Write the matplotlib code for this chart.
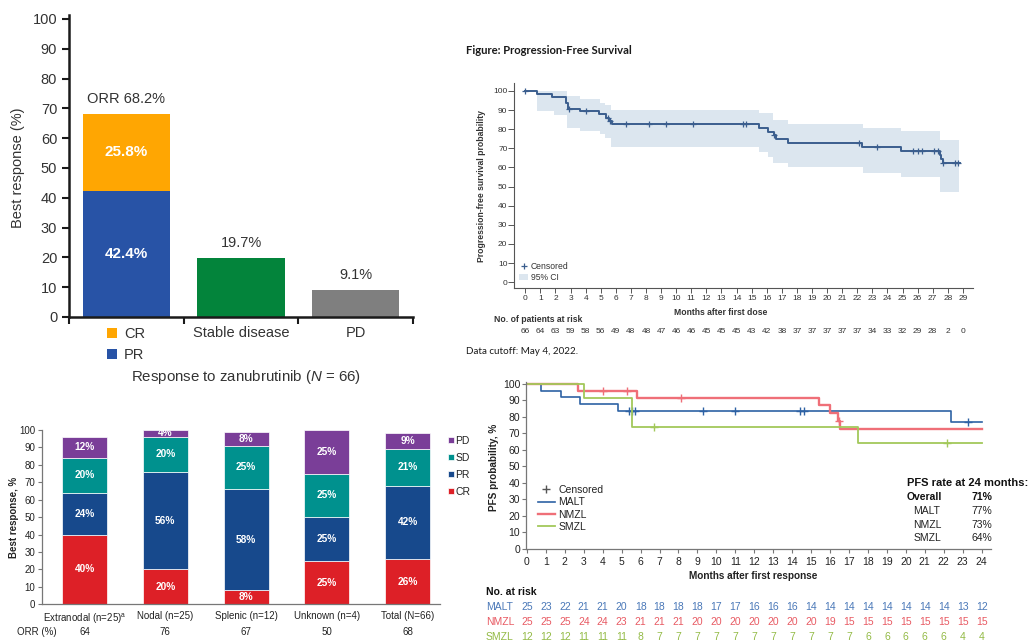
import numpy as np
import matplotlib
matplotlib.use("Agg")
import matplotlib.pyplot as plt
from matplotlib.lines import Line2D
from matplotlib.patches import Patch

plt.rcParams['font.family'] = ['Liberation Sans', 'DejaVu Sans']
plt.rcParams['mathtext.fontset'] = 'custom'
plt.rcParams['mathtext.rm'] = 'Liberation Sans'
plt.rcParams['mathtext.it'] = 'Liberation Sans:italic'
plt.rcParams['mathtext.bf'] = 'Liberation Sans:bold'

# ---- panel A: best response ----
orr_pct = 68.2
cr_pct = 25.8
pr_pct = 42.4
sd_pct = 19.7
pd_pct = 9.1
a_labels = ['Stable disease', 'PD']

# ---- panel B: PFS overall ----
pfs_t = [0, 0.79, 1.80, 2.72, 2.85, 3.6, 4.9, 5.35, 5.55, 5.75, 15.5, 16.1,
         16.45, 16.6, 17.4, 22.3, 24.9, 27.45, 27.55, 27.7, 28.8]
pfs_s = [100, 98.5, 96.9, 93.8, 90.8, 89.3, 87.7, 86.1, 84.4, 82.6, 80.5, 78.7,
         76.8, 74.9, 73.0, 70.9, 68.8, 66.5, 64.3, 62.2, 62.2]
pfs_cens = [0, 2.9, 4.0, 5.45, 5.6, 6.7, 8.2, 9.3, 11.1, 14.4, 14.6, 16.5,
            22.1, 23.3, 25.7, 26.0, 26.3, 27.1, 27.35, 27.7, 28.5, 28.7]
ci_t = [0.8, 1.9, 2.75, 3.6, 4.95, 5.3, 5.65, 15.5, 16.1, 16.4, 17.4, 22.4, 24.9, 27.5, 28.75]
ci_lo = [89.3, 87.5, 80.8, 79.0, 77.5, 75.5, 70.9, 68.3, 65.7, 62.2, 60.1, 57.0, 55.2, 47.0, 47.0]
ci_hi = [100, 100, 97.5, 95.6, 93.8, 92.5, 90.0, 88.3, 88.3, 84.8, 82.6, 80.5, 79.1, 74.4, 74.4]
pfs_risk = [66, 64, 63, 59, 58, 56, 49, 48, 48, 47, 46, 46, 45, 45, 45, 43, 42, 38,
            37, 37, 37, 37, 37, 34, 33, 32, 29, 28, 2, 0]

# ---- panel C: response by subtype ----
subtypes = ['Extranodal (n=25)$^{\\mathregular{a}}$', 'Nodal (n=25)', 'Splenic (n=12)',
            'Unknown (n=4)', 'Total (N=66)']
sub_cr = [40, 20, 8, 25, 26]
sub_pr = [24, 56, 58, 25, 42]
sub_sd = [20, 20, 25, 25, 21]
sub_pd = [12, 4, 8, 25, 9]
sub_orr = [64, 76, 67, 50, 68]

# ---- panel D: PFS by subtype ----
malt_t = [0, 0.75, 1.8, 2.8, 4.8, 22.4, 24]
malt_s = [100, 96, 92, 88, 83.5, 77.2, 77.2]
malt_cens = [5.4, 5.55, 5.7, 9.3, 11.0, 14.4, 14.6, 23.3]
nmzl_t = [0, 2.7, 5.8, 15.4, 16.0, 16.4, 16.55, 24]
nmzl_s = [100, 96, 91.8, 87.2, 82.4, 77.6, 72.7, 72.7]
nmzl_cens = [4.0, 5.3, 8.15, 16.45]
smzl_t = [0, 3.0, 5.55, 17.45, 24]
smzl_s = [100, 91.7, 74.1, 64.0, 64.0]
smzl_cens = [6.7, 22.2]
malt_risk = [25, 23, 22, 21, 21, 20, 18, 18, 18, 18, 17, 17, 16, 16, 16, 14, 14, 14, 14, 14, 14, 14, 14, 13, 12]
nmzl_risk = [25, 25, 25, 24, 24, 23, 21, 21, 21, 20, 20, 20, 20, 20, 20, 20, 19, 15, 15, 15, 15, 15, 15, 15, 15]
smzl_risk = [12, 12, 12, 11, 11, 11, 8, 7, 7, 7, 7, 7, 7, 7, 7, 7, 7, 7, 6, 6, 6, 6, 6, 4, 4]
rate_groups = ['MALT', 'NMZL', 'SMZL']
rate_values = ['77%', '73%', '64%']
rate_overall = '71%'

W, H = 1029, 640
fig = plt.figure(figsize=(W / 100, H / 100), dpi=100)


def add_px_axes(left, top, right, bottom):
    return fig.add_axes([left / W, 1 - bottom / H, (right - left) / W, (bottom - top) / H])


def ftext(x, y, s, **kw):
    fig.text(x / W, 1 - y / H, s, **kw)


def surv_at(times, t, s):
    idx = np.searchsorted(t, times, side='right') - 1
    return np.asarray(s)[idx]


# ================= panel A =================
axA = add_px_axes(69, 14.5, 413, 317)
txtA = '#333333'
bw = 0.76
axA.bar(0, pr_pct, width=bw, color='#2853A6', label='PR')
axA.bar(0, cr_pct, bottom=pr_pct, width=bw, color='#FFA602', label='CR')
axA.bar(1, sd_pct, width=bw, color='#03843B')
axA.bar(2, pd_pct, width=bw, color='#7F7F7F')
axA.text(0, pr_pct / 2, f'{pr_pct}%', ha='center', va='center', color='white',
         fontsize=11, fontweight='bold')
axA.text(0, pr_pct + cr_pct / 2, f'{cr_pct}%', ha='center', va='center', color='white',
         fontsize=11, fontweight='bold')
axA.text(0, orr_pct + 5, f'ORR {orr_pct}%', ha='center', va='center', color=txtA, fontsize=10.5)
axA.text(1, sd_pct + 5, f'{sd_pct}%', ha='center', va='center', color=txtA, fontsize=10.5)
axA.text(2, pd_pct + 5, f'{pd_pct}%', ha='center', va='center', color=txtA, fontsize=10.5)
axA.set_xlim(-0.5, 2.5)
axA.set_ylim(0, 101.5)
axA.set_yticks(range(0, 101, 10))
axA.set_xticks([-0.5, 0.5, 1.5, 2.5])
axA.set_xticklabels([])
for sp in ['top', 'right']:
    axA.spines[sp].set_visible(False)
for sp in ['left', 'bottom']:
    axA.spines[sp].set_linewidth(1.8)
    axA.spines[sp].set_color('#1a1a1a')
axA.tick_params(length=5, width=1.5, color='#1a1a1a', labelsize=10.5, labelcolor=txtA, pad=3.5)
axA.set_ylabel('Best response (%)', fontsize=10.5, color=txtA)
axA.yaxis.set_label_coords(-0.127, 0.493)
for i, lab in enumerate(a_labels):
    axA.text(i + 1, -0.053, lab, transform=axA.get_xaxis_transform(), ha='center',
             va='center', fontsize=10.5, color=txtA)
hA, lA = axA.get_legend_handles_labels()
fig.legend(hA[::-1], lA[::-1], loc='upper left', bbox_to_anchor=(107 / W, 1 - 327 / H),
           frameon=False, fontsize=10.5, handlelength=0.7, handleheight=0.7,
           handletextpad=0.45, labelspacing=0.5, borderpad=0, borderaxespad=0,
           labelcolor=txtA)
ftext(246, 377, 'Response to zanubrutinib ($\\mathit{N}$ = 66)', ha='center', va='center',
      fontsize=10.8, color=txtA)

# ================= panel B =================
axB = add_px_axes(514.4, 83.3, 972.7, 288)
lineB = '#3B5E8E'
axB.fill_between(ci_t, ci_lo, ci_hi, step='post', color='#DCE6EF', linewidth=0)
axB.step(pfs_t, pfs_s, where='post', color=lineB, lw=1.4)
axB.plot(pfs_cens, surv_at(pfs_cens, pfs_t, pfs_s), ls='none', marker='+', ms=5,
         mew=0.9, color=lineB)
axB.set_xlim(-0.72, 29.65)
axB.set_ylim(-3, 104)
axB.set_xticks(range(0, 30))
axB.set_yticks(range(0, 101, 10))
for sp in ['top', 'right']:
    axB.spines[sp].set_visible(False)
for sp in ['left', 'bottom']:
    axB.spines[sp].set_linewidth(0.8)
    axB.spines[sp].set_color('#555555')
axB.tick_params(axis='y', length=4, width=0.7, color='#555555', labelsize=6, labelcolor='#333', pad=1)
axB.tick_params(axis='x', length=3.5, width=0.7, color='#555555', labelsize=6, labelcolor='#333', pad=1.5)
axB.set_ylabel('Progression-free survival probability', fontsize=6.2, fontweight='bold', color='#333')
axB.yaxis.set_label_coords(-0.062, 0.498)
axB.set_xlabel('Months after first dose', fontsize=6.2, fontweight='bold', color='#333')
axB.xaxis.set_label_coords(0.451, -0.098)
hB = [Line2D([], [], ls='none', marker='+', ms=5, mew=0.9, color=lineB),
      Patch(color='#DCE6EF', linewidth=0)]
axB.legend(hB, ['Censored', '95% CI'], loc='upper left', bbox_to_anchor=(519 / W, 1 - 262 / H),
           bbox_transform=fig.transFigure, frameon=False, fontsize=6.2, handlelength=1.1,
           handleheight=0.7, handletextpad=0.3, labelspacing=0.25, borderpad=0,
           borderaxespad=0, labelcolor='#333')
for i, n in enumerate(pfs_risk):
    axB.text(i, -0.2125, str(n), transform=axB.get_xaxis_transform(), ha='center',
             va='center', fontsize=6, color='#333')
ftext(494, 319.5, 'No. of patients at risk', fontsize=6.2, fontweight='bold', color='#333', va='center')
ftext(466, 51, 'Figure: Progression-Free Survival', family=['Lato', 'DejaVu Sans'],
      fontsize=8.1, fontweight='bold', color='#1a1a1a', va='center')
ftext(466, 352, 'Data cutoff: May 4, 2022.', family=['Lato', 'DejaVu Sans'],
      fontsize=7.1, color='#1a1a1a', va='center')

# ================= panel C =================
axC = add_px_axes(41.7, 430, 440, 604.3)
xc = np.arange(len(subtypes))
bwc = 0.556
colC = {'CR': '#DD2027', 'PR': '#17498C', 'SD': '#00918E', 'PD': '#7A3E98'}
bottoms = np.zeros(len(subtypes))
for name, vals in [('CR', sub_cr), ('PR', sub_pr), ('SD', sub_sd), ('PD', sub_pd)]:
    vals = np.asarray(vals, dtype=float)
    axC.bar(xc, vals, bottom=bottoms, width=bwc, color=colC[name], edgecolor='white',
            linewidth=0.5, label=name)
    for xi, v, b in zip(xc, vals, bottoms):
        axC.text(xi, b + v / 2, f'{v:.0f}%', ha='center', va='center', color='white',
                 fontsize=7.3, fontweight='bold')
    bottoms += vals
axC.set_xlim(-0.53, 4.4)
axC.set_ylim(0, 100)
axC.set_yticks(range(0, 101, 10))
axC.set_xticks(xc)
axC.set_xticklabels(subtypes)
for sp in ['top', 'right']:
    axC.spines[sp].set_visible(False)
for sp in ['left', 'bottom']:
    axC.spines[sp].set_linewidth(0.9)
    axC.spines[sp].set_color('#777777')
axC.tick_params(axis='y', length=3, width=0.8, color='#777777', labelsize=7, labelcolor='#222', pad=1.5)
axC.tick_params(axis='x', length=0, labelsize=7, labelcolor='#222', pad=5)
axC.set_ylabel('Best response, %', fontsize=7, fontweight='bold', color='#222')
axC.yaxis.set_label_coords(-0.058, 0.5)
for xi, v in zip(xc, sub_orr):
    axC.text(xi, -0.157, str(v), transform=axC.get_xaxis_transform(), ha='center',
             va='center', fontsize=7, color='#222')
ftext(17, 631.7, 'ORR (%)', fontsize=7, color='#222', va='center')
hC, lC = axC.get_legend_handles_labels()
fig.legend(hC[::-1], lC[::-1], loc='upper left', bbox_to_anchor=(447.5 / W, 1 - 435.5 / H),
           frameon=False, fontsize=7.5, handlelength=0.6, handleheight=0.6,
           handletextpad=0.15, labelspacing=0.68, borderpad=0, borderaxespad=0,
           labelcolor='#222')

# ================= panel D =================
axD = add_px_axes(526, 381.5, 990.5, 549)
colD = {'MALT': '#2E62A4', 'NMZL': '#EF6F78', 'SMZL': '#A3C85A'}
riskD = {'MALT': '#4A78B8', 'NMZL': '#E85A63', 'SMZL': '#93BA45'}
for name, t, s, cens, lw in [('MALT', malt_t, malt_s, malt_cens, 1.2),
                             ('NMZL', nmzl_t, nmzl_s, nmzl_cens, 1.7),
                             ('SMZL', smzl_t, smzl_s, smzl_cens, 1.3)]:
    axD.step(t, s, where='post', color=colD[name], lw=lw, label=name)
    axD.plot(cens, surv_at(cens, t, s), ls='none', marker='+', ms=6, mew=1.0,
             color=colD[name])
axD.set_xlim(-0.05, 24.47)
axD.set_ylim(0, 101.5)
axD.set_xticks(range(0, 25))
axD.set_yticks(range(0, 101, 10))
for sp in ['top', 'right']:
    axD.spines[sp].set_visible(False)
for sp in ['left', 'bottom']:
    axD.spines[sp].set_linewidth(0.9)
    axD.spines[sp].set_color('#777777')
axD.tick_params(length=3, width=0.8, color='#777777', labelsize=7.5, labelcolor='#222')
axD.tick_params(axis='y', pad=1.2)
axD.tick_params(axis='x', pad=3)
axD.set_ylabel('PFS probability, %', fontsize=7.2, fontweight='bold', color='#222')
axD.yaxis.set_label_coords(-0.058, 0.49)
axD.set_xlabel('Months after first response', fontsize=7.2, fontweight='bold', color='#222')
axD.xaxis.set_label_coords(0.489, -0.134)
hD, lD = axD.get_legend_handles_labels()
hD = [Line2D([], [], ls='none', marker='+', ms=6, mew=1.0, color='#555555')] + hD
lD = ['Censored'] + lD
fig.legend(hD, lD, loc='upper left', bbox_to_anchor=(538 / W, 1 - 485 / H),
           frameon=False, fontsize=7.5, handlelength=1.6, handletextpad=0.35,
           labelspacing=0.22, borderpad=0, borderaxespad=0, labelcolor='#222')
ftext(906.7, 483.3, 'PFS rate at 24 months:', fontsize=8, fontweight='bold', color='#111', va='center')
ftext(906.7, 497.3, 'Overall', fontsize=7.5, fontweight='bold', color='#111', va='center')
ftext(971, 497.3, rate_overall, fontsize=7.5, fontweight='bold', color='#111', va='center')
for k, (g, v) in enumerate(zip(rate_groups, rate_values)):
    ftext(913.3, 510.7 + 13.8 * k, g, fontsize=7.5, color='#222', va='center')
    ftext(971, 510.7 + 13.8 * k, v, fontsize=7.5, color='#222', va='center')
ftext(486, 591.7, 'No. at risk', fontsize=7.5, fontweight='bold', color='#111', va='center')
for k, (g, risk) in enumerate(zip(rate_groups, [malt_risk, nmzl_risk, smzl_risk])):
    yrow = 607.3 + 14.7 * k
    ftext(486, yrow, g, fontsize=7.5, color=riskD[g], va='center')
    for i, n in enumerate(risk):
        axD.text(i, (549 - yrow) / 167.5, str(n), transform=axD.get_xaxis_transform(),
                 ha='center', va='center', fontsize=7.5, color=riskD[g])

fig.savefig('out.png', dpi=100)
